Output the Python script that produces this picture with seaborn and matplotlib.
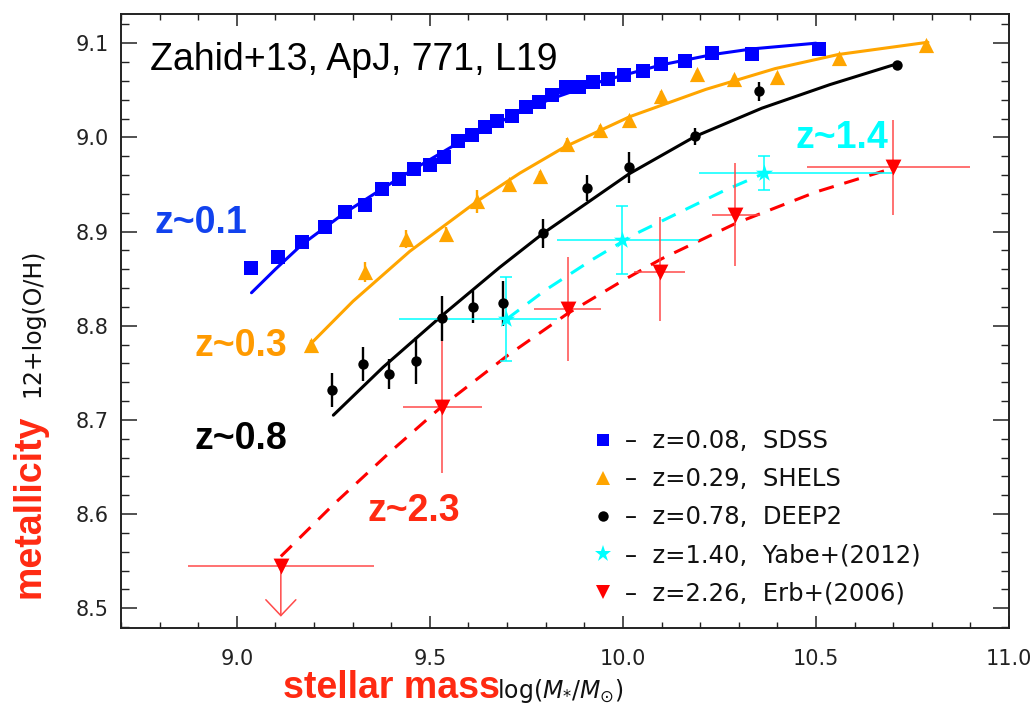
import matplotlib
matplotlib.use("Agg")
import matplotlib.pyplot as plt
from matplotlib.ticker import MultipleLocator, FormatStrFormatter
from matplotlib.lines import Line2D
import seaborn as sns

# ---------------- data: mass-metallicity relation ----------------
# SDSS, z = 0.08
sdss_mass = [9.036, 9.106, 9.168, 9.228, 9.280, 9.332, 9.376, 9.419, 9.460, 9.500,
             9.536, 9.573, 9.608, 9.642, 9.675, 9.712, 9.748, 9.782, 9.817, 9.852,
             9.886, 9.922, 9.962, 10.004, 10.052, 10.099, 10.161, 10.231, 10.334, 10.507]
sdss_oh = [8.861, 8.873, 8.889, 8.905, 8.921, 8.928, 8.945, 8.956, 8.966, 8.971,
           8.979, 8.996, 9.002, 9.011, 9.017, 9.023, 9.032, 9.038, 9.045, 9.054,
           9.054, 9.059, 9.062, 9.066, 9.071, 9.078, 9.081, 9.090, 9.089, 9.094]
sdss_fit_mass = [9.038, 9.100, 9.168, 9.280, 9.375, 9.457, 9.573, 9.733, 9.815, 9.948,
                 10.100, 10.233, 10.336, 10.500]
sdss_fit_oh = [8.835, 8.860, 8.886, 8.920, 8.945, 8.966, 8.994, 9.027, 9.041, 9.060,
               9.077, 9.088, 9.094, 9.100]

# SHELS, z = 0.29
shels_mass = [9.193, 9.332, 9.438, 9.543, 9.623, 9.705, 9.786, 9.855, 9.940, 10.015,
              10.099, 10.192, 10.287, 10.400, 10.560, 10.786]
shels_oh = [8.779, 8.857, 8.892, 8.897, 8.932, 8.950, 8.959, 8.993, 9.008, 9.018,
            9.044, 9.067, 9.062, 9.064, 9.084, 9.098]
shels_err = [0.006, 0.011, 0.010, 0.008, 0.012, 0.005, 0.005, 0.006, 0.005, 0.005,
             0.005, 0.005, 0.004, 0.004, 0.004, 0.004]
shels_fit_mass = [9.192, 9.301, 9.448, 9.622, 9.733, 9.850, 10.018, 10.215, 10.394,
                  10.558, 10.790]
shels_fit_oh = [8.781, 8.826, 8.879, 8.932, 8.962, 8.990, 9.022, 9.051, 9.073,
                9.088, 9.101]

# DEEP2, z = 0.78
deep2_mass = [9.247, 9.326, 9.394, 9.465, 9.532, 9.612, 9.690, 9.793, 9.908, 10.015,
              10.187, 10.353, 10.710]
deep2_oh = [8.732, 8.759, 8.749, 8.763, 8.808, 8.820, 8.824, 8.898, 8.946, 8.968,
            9.001, 9.049, 9.077]
deep2_err = [0.018, 0.018, 0.016, 0.025, 0.024, 0.017, 0.024, 0.015, 0.014, 0.016,
             0.009, 0.010, 0.004]
deep2_fit_mass = [9.250, 9.379, 9.535, 9.681, 9.793, 10.015, 10.187, 10.360,
                  10.536, 10.709]
deep2_fit_oh = [8.705, 8.756, 8.812, 8.862, 8.898, 8.961, 9.001, 9.031,
                9.056, 9.078]

# Yabe+(2012), z = 1.40
yabe_mass = [9.697, 9.997, 10.365]
yabe_oh = [8.807, 8.891, 8.962]
yabe_xerr_lo = [0.277, 0.169, 0.168]
yabe_xerr_hi = [0.131, 0.200, 0.335]
yabe_yerr = [0.045, 0.036, 0.018]
yabe_fit_mass = [9.699, 9.800, 9.920, 10.030, 10.150, 10.260, 10.367]
yabe_fit_oh = [8.807, 8.838, 8.870, 8.897, 8.921, 8.943, 8.962]

# Erb+(2006), z = 2.26 (first bin is an upper limit)
erb_mass = [9.114, 9.532, 9.858, 10.095, 10.290, 10.700]
erb_oh = [8.545, 8.714, 8.818, 8.857, 8.918, 8.968]
erb_xerr_lo = [0.240, 0.101, 0.088, 0.066, 0.060, 0.222]
erb_xerr_hi = [0.241, 0.104, 0.085, 0.066, 0.065, 0.200]
erb_yerr_lo = [0.000, 0.070, 0.055, 0.052, 0.055, 0.050]
erb_yerr_hi = [0.000, 0.070, 0.055, 0.058, 0.055, 0.050]
erb_upper_limit = [True, False, False, False, False, False]
erb_limit_arrow = 0.054
erb_fit_mass = [9.114, 9.250, 9.400, 9.533, 9.700, 9.857, 10.000, 10.100, 10.294,
                10.500, 10.705]
erb_fit_oh = [8.555, 8.610, 8.667, 8.715, 8.768, 8.813, 8.848, 8.871, 8.909,
              8.942, 8.968]

legend_labels = ["\u2013  z=0.08,  SDSS", "\u2013  z=0.29,  SHELS", "\u2013  z=0.78,  DEEP2",
                 "\u2013  z=1.40,  Yabe+(2012)", "\u2013  z=2.26,  Erb+(2006)"]

# ---------------- style ----------------
sns.set_theme(style="ticks")
plt.rcParams["font.family"] = ["DejaVu Sans"]
plt.rcParams["mathtext.fontset"] = "dejavusans"

BLUE, ORANGE, BLACK, CYAN, RED = "#0000ff", "#ffa500", "#000000", "#00ffff", "#ff0000"
RED_ERR = "#ff4a4a"
LABEL_RED = "#ff2a12"
HELV = ["Liberation Sans", "DejaVu Sans"]

fig = plt.figure(figsize=(10.36, 7.09), dpi=100)
ax = fig.add_axes([121 / 1036, 1 - 628 / 709, 888 / 1036, 614 / 709])
ax.set_facecolor("white")

LW = 2.2
dash = (0, (5.0, 3.6))

# fit curves
sns.lineplot(x=sdss_fit_mass, y=sdss_fit_oh, ax=ax, color=BLUE, lw=LW, sort=False,
             estimator=None, zorder=2)
sns.lineplot(x=shels_fit_mass, y=shels_fit_oh, ax=ax, color=ORANGE, lw=LW, sort=False,
             estimator=None, zorder=2)
sns.lineplot(x=deep2_fit_mass, y=deep2_fit_oh, ax=ax, color=BLACK, lw=LW, sort=False,
             estimator=None, zorder=2)
sns.lineplot(x=yabe_fit_mass, y=yabe_fit_oh, ax=ax, color=CYAN, lw=LW, sort=False,
             estimator=None, linestyle=dash, zorder=2)
sns.lineplot(x=erb_fit_mass, y=erb_fit_oh, ax=ax, color=RED, lw=LW, sort=False,
             estimator=None, linestyle=dash, zorder=2)

# error bars
ax.errorbar(shels_mass, shels_oh, yerr=shels_err, fmt="none", ecolor=ORANGE,
            elinewidth=1.7, capsize=0, zorder=2.5)
ax.errorbar(deep2_mass, deep2_oh, yerr=deep2_err, fmt="none", ecolor=BLACK,
            elinewidth=1.7, capsize=0, zorder=2.5)
ax.errorbar(yabe_mass, yabe_oh, xerr=[yabe_xerr_lo, yabe_xerr_hi], fmt="none",
            ecolor=CYAN, elinewidth=1.1, capsize=0, zorder=2.5)
ax.errorbar(yabe_mass, yabe_oh, yerr=yabe_yerr, fmt="none", ecolor=CYAN,
            elinewidth=1.1, capsize=4, capthick=1.1, zorder=2.5)
ax.errorbar(erb_mass, erb_oh, xerr=[erb_xerr_lo, erb_xerr_hi],
            yerr=[erb_yerr_lo, erb_yerr_hi], fmt="none", ecolor=RED_ERR,
            elinewidth=1.1, capsize=0, zorder=2.5)
for m, oh, lim in zip(erb_mass, erb_oh, erb_upper_limit):
    if lim:
        ax.annotate("", xy=(m, oh - erb_limit_arrow), xytext=(m, oh),
                    arrowprops=dict(arrowstyle="->,head_length=0.95,head_width=0.9",
                                    color=RED_ERR, lw=1.1, shrinkA=0, shrinkB=0),
                    zorder=2.5)

# data points
sns.scatterplot(x=sdss_mass, y=sdss_oh, ax=ax, marker="s", s=92, color=BLUE,
                linewidth=0, zorder=3)
sns.scatterplot(x=shels_mass, y=shels_oh, ax=ax, marker="^", s=120, color=ORANGE,
                linewidth=0, zorder=3)
sns.scatterplot(x=deep2_mass, y=deep2_oh, ax=ax, marker="o", s=56, color=BLACK,
                linewidth=0, zorder=3)
sns.scatterplot(x=yabe_mass, y=yabe_oh, ax=ax, marker="*", s=170, color=CYAN,
                linewidth=0, zorder=3)
sns.scatterplot(x=erb_mass, y=erb_oh, ax=ax, marker="v", s=130, color=RED,
                linewidth=0, zorder=3)

# axes
ax.set_xlim(8.7, 11.0)
ax.set_ylim(8.479, 9.131)
ax.xaxis.set_major_locator(MultipleLocator(0.5))
ax.xaxis.set_minor_locator(MultipleLocator(0.1))
ax.yaxis.set_major_locator(MultipleLocator(0.1))
ax.yaxis.set_minor_locator(MultipleLocator(0.02))
ax.xaxis.set_major_formatter(FormatStrFormatter("%.1f"))
ax.yaxis.set_major_formatter(FormatStrFormatter("%.1f"))
ax.tick_params(axis="x", which="major", direction="in", length=8.6, width=1.1,
               top=True, bottom=True, labelsize=15, pad=15, colors="#222222")
ax.tick_params(axis="x", which="minor", direction="in", length=4.3, width=1.0,
               top=True, bottom=True, colors="#222222")
ax.tick_params(axis="y", which="major", direction="in", length=11.5, width=1.1,
               left=True, right=True, labelsize=15, pad=9, colors="#222222")
ax.tick_params(axis="y", which="minor", direction="in", length=5.8, width=1.0,
               left=True, right=True, colors="#222222")
for sp in ax.spines.values():
    sp.set_visible(True)
    sp.set_linewidth(1.4)
    sp.set_color("#222222")
ax.set_xlabel("")
ax.set_ylabel("")

# annotations
ax.text(8.775, 9.082, "Zahid+13, ApJ, 771, L19", family=HELV, fontsize=27,
        ha="left", va="center", color="black")
ax.text(8.788, 8.898, "z~0.1", family=HELV, fontsize=27, fontweight="bold",
        color="#1142ee", ha="left", va="baseline")
ax.text(8.891, 8.768, "z~0.3", family=HELV, fontsize=27, fontweight="bold",
        color="#ff9a00", ha="left", va="baseline")
ax.text(8.891, 8.669, "z~0.8", family=HELV, fontsize=27, fontweight="bold",
        color="black", ha="left", va="baseline")
ax.text(9.339, 8.593, "z~2.3", family=HELV, fontsize=27, fontweight="bold",
        color=LABEL_RED, ha="left", va="baseline")
ax.text(10.446, 8.989, "z~1.4", family=HELV, fontsize=27, fontweight="bold",
        color=CYAN, ha="left", va="baseline")

# legend
handles = [
    Line2D([], [], ls="none", marker="s", ms=8.5, color=BLUE, mew=0),
    Line2D([], [], ls="none", marker="^", ms=10.5, color=ORANGE, mew=0),
    Line2D([], [], ls="none", marker="o", ms=7.5, color=BLACK, mew=0),
    Line2D([], [], ls="none", marker="*", ms=12.5, color=CYAN, mew=0),
    Line2D([], [], ls="none", marker="v", ms=10.5, color=RED, mew=0),
]
leg = ax.legend(handles, legend_labels, loc="upper left",
                bbox_to_anchor=(0.529, 0.324), frameon=False, fontsize=17.5,
                handlelength=1.0, handletextpad=0.4, labelspacing=0.58,
                borderpad=0, borderaxespad=0)
for t in leg.get_texts():
    t.set_color("#111111")

# axis titles
fig.text(39.5 / 1036, 1 - 598 / 709, "metallicity", family=HELV, fontsize=27,
         fontweight="bold", color=LABEL_RED, rotation=90, rotation_mode="anchor",
         ha="left", va="baseline")
fig.text(39.5 / 1036, 1 - 397 / 709, "12+log(O/H)", fontsize=17, color="#111111",
         rotation=90, rotation_mode="anchor", ha="left", va="baseline")
fig.text(283 / 1036, 1 - 698 / 709, "stellar mass", family=HELV, fontsize=27,
         fontweight="bold", color=LABEL_RED, ha="left", va="baseline")
fig.text(497 / 1036, 1 - 698 / 709, r"log$(M_{*}/M_{\odot})$", fontsize=17,
         color="#111111", ha="left", va="baseline")

fig.savefig("out.png", dpi=100, facecolor="white")
